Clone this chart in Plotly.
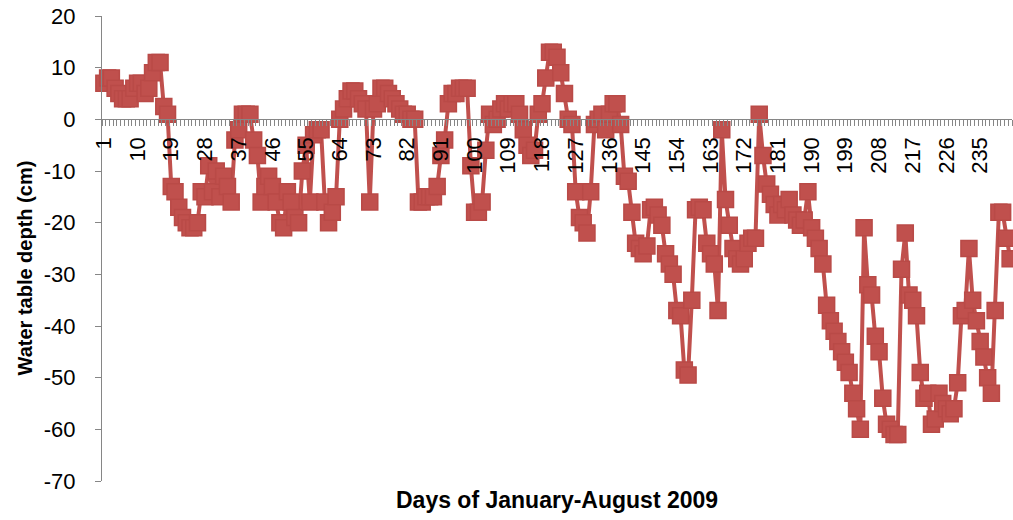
import plotly.graph_objects as go

# Day index (categories) and water table depth (cm)
days = list(range(1, 244))
depth = [
    7, 8, 8, 6, 5, 4, 4, 4, 6, 7,
    7, 5, 6, 9, 11, 11, 2.5, 1, -13, -14,
    -17, -19, -20, -21, -21, -20, -14, -15, -9, -14,
    -10, -15, -11, -13, -16, -4, -2, 1, 1, 1,
    -4, -7, -16, -13, -11, -13, -16, -20, -21, -14,
    -16, -19, -20, -10, -5, -16, -3, -2, -2, -16,
    -20, -18, -15, 0, 2, 4, 5.5, 5.5, 4, 3,
    2, -16, 2, 3, 6, 6, 5, 4, 3, 2,
    1, 1, 0, 0, -16, -16, -15, -15, -15, -13,
    -7, -4, 3, 5, 5, 6, 6, 6, -9, -18,
    -18, -16, -6, 1, -1, 0, 2, 3, 2, 3,
    3, 1, -2, -5, -7, -6, 1, 3, 8, 13,
    13, 12, 9, 5, 0, -1, -14, -19, -20, -22,
    -14, -1, 0, 1, -2, 1, 3, 3, -1, -11,
    -12, -18, -24, -25, -26, -24.5, -17.5, -17, -18.5, -20.5,
    -26, -28, -30, -37, -38, -48.5, -49.5, -35, -17.5, -17,
    -17.5, -24, -26, -28, -37, -2, -15.5, -20.5, -25, -27,
    -28, -27, -24, -23, -23, 1, -7, -12.5, -14.5, -16.5,
    -18.5, -16.5, -17.5, -15.5, -18.5, -19.5, -20.5, -19.5, -14, -21,
    -23, -25, -28, -36, -39, -41, -43, -45, -47, -49,
    -53, -56, -60, -21, -32, -34, -42, -45, -54, -59,
    -60, -61, -61, -29, -22, -34, -35, -38, -49, -54,
    -53, -59, -58, -53, -55, -56, -57, -56, -51, -38,
    -37, -25, -35, -39, -43, -46, -50, -53, -37, -18,
    -18, -23, -27,
]
tick_days = days[::9]
tick_labels = [str(d) for d in tick_days]
y_ticks = [-70, -60, -50, -40, -30, -20, -10, 0, 10, 20]
y_labels = [str(v) for v in y_ticks]
y_min, y_max = y_ticks[0], y_ticks[-1]

RED = "#C0504D"
AXIS = "#868686"
FONT = "Liberation Sans"

fig = go.Figure()
fig.add_trace(go.Scatter(
    x=days, y=depth, mode="lines+markers",
    line=dict(color=RED, width=4),
    marker=dict(symbol="square", size=16, color=RED,
                line=dict(color="#B94A47", width=1.5)),
    cliponaxis=False, showlegend=False,
))

minor_vals = [d - 0.5 for d in days] + [days[-1] + 0.5]

fig.update_layout(
    width=1013, height=520,
    margin=dict(l=102, r=1, t=16, b=39, autoexpand=False),
    paper_bgcolor="white", plot_bgcolor="white",
    font=dict(family=FONT, size=22, color="#000000"),
    xaxis=dict(
        range=[0.5, days[-1] + 0.5], automargin=False,
        tickmode="array", tickvals=tick_days, ticktext=tick_labels,
        tickangle=-90, ticks="", showgrid=False, zeroline=False,
        showline=True, linecolor=AXIS, linewidth=1,
        anchor="free", position=(0 - y_min) / (y_max - y_min),
        tickfont=dict(family=FONT, size=22, color="#000000"),
        ticklabelstandoff=8,
        minor=dict(tickmode="array", tickvals=minor_vals, ticks="outside",
                   ticklen=6, tickcolor=AXIS, tickwidth=1, showgrid=False),
    ),
    yaxis=dict(
        range=[y_min, y_max], automargin=False,
        tickmode="array", tickvals=y_ticks, ticktext=y_labels,
        ticks="outside", ticklen=6, tickcolor=AXIS,
        showgrid=False, zeroline=False,
        showline=True, linecolor=AXIS, linewidth=1,
        tickfont=dict(family=FONT, size=22, color="#000000"),
        ticklabelstandoff=15,
    ),
    annotations=[
        dict(text="<b>Days of January-August 2009</b>", xref="paper", yref="paper",
             x=0.5, y=0, yshift=-19, showarrow=False,
             yanchor="middle", xanchor="center",
             font=dict(family=FONT, size=23, color="#000000")),
        dict(text="<b>Water table depth (cm)</b>", xref="paper", yref="paper",
             x=0, y=0.5, xshift=-78, yshift=-20, showarrow=False, textangle=-90,
             xanchor="center", yanchor="middle",
             font=dict(family=FONT, size=20, color="#000000")),
    ],
)

fig.write_html(
    "out.html",
    config={"displayModeBar": False},
    post_script="document.body.style.margin='0';document.body.style.padding='0';"
                "document.body.style.overflow='hidden';",
)
